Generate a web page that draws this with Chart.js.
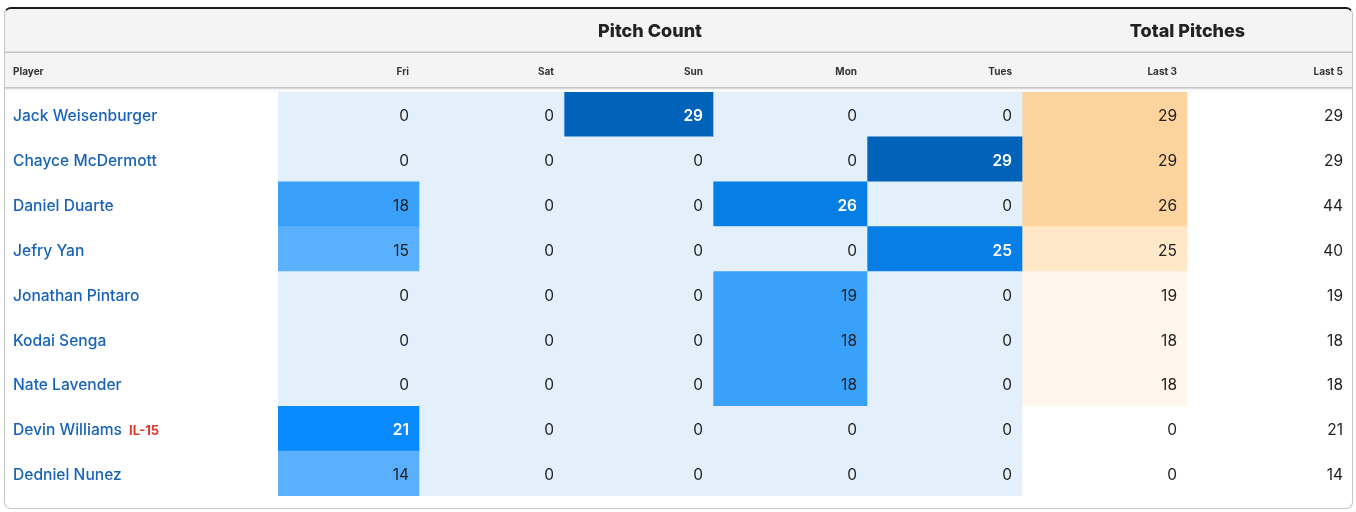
<!DOCTYPE html>
<html>
<head>
<meta charset="utf-8">
<script src="https://cdn.jsdelivr.net/npm/chart.js@4.4.1/dist/chart.umd.min.js"></script>
<style>
    body { margin: 0; background: #fff; }
    #wrap { position: relative; width: 1356px; height: 512px; }
    #frame {
        position: absolute; left: 4px; top: 7px; width: 1349px; height: 502px;
        box-sizing: border-box; border: 1px solid #c6c6c6; border-top: 2px solid #1a1a1a;
        border-radius: 7px; pointer-events: none;
    }
</style>
</head>
<body>
<div id="wrap">
    <canvas id="myChart" width="1356" height="512"></canvas>
    <div id="frame"></div>
</div>
<script>
    var players = ["Jack Weisenburger", "Chayce McDermott", "Daniel Duarte", "Jefry Yan",
        "Jonathan Pintaro", "Kodai Senga", "Nate Lavender", "Devin Williams", "Dedniel Nunez"];
    var tags = ["", "", "", "", "", "", "", "IL-15", ""];
    var columns = ["Fri", "Sat", "Sun", "Mon", "Tues", "Last 3", "Last 5"];

    var fri = [0, 0, 18, 15, 0, 0, 0, 21, 14];
    var sat = [0, 0, 0, 0, 0, 0, 0, 0, 0];
    var sun = [29, 0, 0, 0, 0, 0, 0, 0, 0];
    var mon = [0, 0, 26, 0, 19, 18, 18, 0, 0];
    var tues = [0, 29, 0, 25, 0, 0, 0, 0, 0];
    var last3 = [29, 29, 26, 25, 19, 18, 18, 0, 0];
    var last5 = [29, 29, 44, 40, 19, 18, 18, 21, 14];
    var values = [fri, sat, sun, mon, tues, last3, last5];

    // column edges, in pixels from the left of the plot area
    var colEdges = [0, 141, 286, 435, 589, 744, 909, 1075];

    var fontFamily = "Inter, 'Noto Sans', sans-serif";
    var nameFont = { family: fontFamily, size: 15.6, weight: '500' };

    function blueFor(v) {
        if (v >= 29) return '#0062b8';
        if (v >= 25) return '#057ee6';
        if (v >= 21) return '#0a8aff';
        if (v >= 18) return '#3aa1fb';
        if (v >= 14) return '#5ab0fd';
        return '#e3f0fc';
    }

    function orangeFor(v) {
        if (v >= 26) return '#fdd49e';
        if (v >= 25) return '#fee8c8';
        if (v >= 18) return '#fff7ec';
        return '#ffffff';
    }

    function cellColor(col, v) {
        if (col <= 4) return blueFor(v);
        if (col === 5) return orangeFor(v);
        return 'rgba(255,255,255,0)';
    }

    var datasets = columns.map(function (name, c) {
        return {
            label: name,
            data: players.map(function () { return [colEdges[c], colEdges[c + 1]]; }),
            backgroundColor: values[c].map(function (v) { return cellColor(c, v); }),
            borderWidth: 0,
            borderSkipped: false,
            categoryPercentage: 1,
            barPercentage: 1,
            grouped: false
        };
    });

    var tablePlugin = {
        id: 'tableDecor',
        beforeDraw: function (chart) {
            var ctx = chart.ctx;
            ctx.save();
            ctx.beginPath();
            ctx.roundRect(5, 8, 1347, 500, 6);
            ctx.clip();
            ctx.fillStyle = '#f4f4f4';
            ctx.fillRect(0, 0, 1356, 88);
            var g = ctx.createLinearGradient(0, 88, 0, 92);
            g.addColorStop(0, '#ececec');
            g.addColorStop(1, '#ffffff');
            ctx.fillStyle = g;
            ctx.fillRect(0, 88, 1356, 4);
            ctx.fillStyle = '#c4c4c4';
            ctx.fillRect(0, 51.5, 1356, 1.5);
            ctx.fillRect(0, 87, 1356, 1.5);
            ctx.restore();

            var x = chart.scales.x;
            ctx.save();
            ctx.fillStyle = '#222';
            ctx.textBaseline = 'middle';
            ctx.textAlign = 'center';
            ctx.font = "800 18px " + fontFamily;
            ctx.fillText("Pitch Count", (x.getPixelForValue(colEdges[0]) + x.getPixelForValue(colEdges[5])) / 2, 32);
            ctx.fillText("Total Pitches", (x.getPixelForValue(colEdges[5]) + x.getPixelForValue(colEdges[7])) / 2, 32);
            ctx.font = "bold 10px " + fontFamily;
            ctx.fillStyle = '#333';
            ctx.textAlign = 'left';
            ctx.fillText("Player", 13, 71.5);
            ctx.textAlign = 'right';
            columns.forEach(function (name, c) {
                ctx.fillText(name, x.getPixelForValue(colEdges[c + 1]) - 10, 71.5);
            });
            ctx.restore();
        },
        afterDatasetsDraw: function (chart) {
            var ctx = chart.ctx;
            ctx.save();
            ctx.textAlign = 'right';
            ctx.textBaseline = 'middle';
            chart.data.datasets.forEach(function (ds, c) {
                chart.getDatasetMeta(c).data.forEach(function (el, r) {
                    var v = values[c][r];
                    var white = c <= 4 && v >= 21;
                    ctx.fillStyle = white ? '#ffffff' : '#222222';
                    ctx.font = (white ? '600 ' : '400 ') + "15.5px " + fontFamily;
                    ctx.fillText(String(v), Math.max(el.x, el.base) - 10, el.y + 2);
                });
            });
            // injury tags after player names
            var y = chart.scales.y;
            ctx.textAlign = 'left';
            tags.forEach(function (t, r) {
                if (!t) return;
                ctx.font = nameFont.weight + " " + nameFont.size + "px " + fontFamily;
                var w = ctx.measureText(players[r]).width;
                ctx.font = "bold 13px " + fontFamily;
                ctx.fillStyle = '#e2382c';
                ctx.fillText(t, 13 + w + 7, y.getPixelForValue(r) + 2);
            });
            ctx.restore();
        }
    };

    var ctx = document.getElementById("myChart").getContext("2d");
    var myChart = new Chart(ctx, {
        type: 'bar',
        data: { labels: players, datasets: datasets },
        options: {
            indexAxis: 'y',
            responsive: false,
            animation: false,
            layout: { padding: { top: 92, left: 13, right: 3, bottom: 16 } },
            plugins: { legend: { display: false }, tooltip: { enabled: false } },
            scales: {
                x: {
                    type: 'linear', min: 0, max: colEdges[colEdges.length - 1],
                    display: false
                },
                y: {
                    type: 'category',
                    grid: { display: false, drawTicks: false },
                    border: { display: false },
                    afterFit: function (scale) { scale.width = 265; },
                    ticks: {
                        crossAlign: 'far',
                        labelOffset: 2,
                        color: '#1763b8',
                        font: nameFont
                    }
                }
            }
        },
        plugins: [tablePlugin]
    });
</script>
</body>
</html>
